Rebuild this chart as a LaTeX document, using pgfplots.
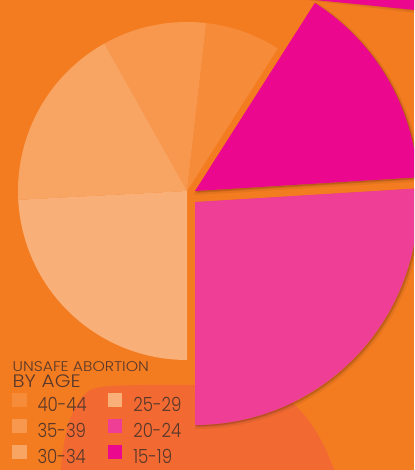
\documentclass[border=0pt]{standalone}
\usepackage{pgfplots}
\pgfplotsset{compat=1.18}
\usepackage{fontspec}
\setmainfont{Poppins}
\newfontfamily\legfont{Poppins Light}[FakeStretch=0.85]
\newfontfamily\titfont{Poppins Light}[FakeStretch=1.12]
\definecolor{bg}{RGB}{244,124,32}
\definecolor{blob}{RGB}{242,106,50}
\definecolor{cA}{RGB}{246,139,58}
\definecolor{cB}{RGB}{247,152,78}
\definecolor{cC}{RGB}{248,164,99}
\definecolor{cD}{RGB}{249,176,120}
\definecolor{cE}{RGB}{238,62,150}
\definecolor{cF}{RGB}{236,8,142}
\definecolor{txt}{RGB}{88,56,42}
\begin{document}
\begin{tikzpicture}
\begin{axis}[
  scale only axis, width=414pt, height=470pt,
  xmin=0, xmax=414, ymin=0, ymax=470,
  hide axis, clip=true,
  legend columns=2,
  legend cell align=left,
  legend image code/.code={\fill[#1,draw=none] (0pt,-2pt) rectangle (14.5pt,12.5pt);},
  legend style={at={(axis cs:12,77)}, anchor=north west, draw=none, fill=none,
    inner sep=0pt, outer sep=0pt,
    font=\legfont\fontsize{19.5}{22}\selectfont, text=txt,
    nodes={inner sep=0pt},
    /tikz/every odd column/.append style={column sep=11pt},
    /tikz/every even column/.append style={column sep=21pt},
    row sep=5.5pt},
]
% background
\addplot[fill=bg, draw=none, forget plot] coordinates {(0,0) (414,0) (414,470) (0,470)} -- cycle;
\addplot[fill=blob, draw=none, smooth, forget plot] coordinates {
 (60,-5) (63,20) (68,45) (77,66) (90,80) (110,84) (150,85) (200,85) (250,83) (278,76) (298,62) (314,42) (326,20) (336,-5)} -- cycle;
% orange slices (center 187,279, r 169)
\addplot[fill=cA, draw=none, domain=57.5:83.5, samples=30, variable=\t, forget plot] ({187+169*cos(\t)},{279+169*sin(\t)}) -- (187,279) -- cycle;
\addplot[fill=cB, draw=none, domain=83.5:119.3, samples=30, variable=\t, forget plot] ({187+169*cos(\t)},{279+169*sin(\t)}) -- (187,279) -- cycle;
\addplot[fill=cC, draw=none, domain=119.3:183.0, samples=40, variable=\t, forget plot] ({187+169*cos(\t)},{279+169*sin(\t)}) -- (187,279) -- cycle;
\addplot[fill=cD, draw=none, domain=183.0:270, samples=50, variable=\t, forget plot] ({187+169*cos(\t)},{279+169*sin(\t)}) -- (187,279) -- cycle;
% shadows for exploded slices
\addplot[fill=black, draw=black, line width=4pt, opacity=0.06, domain=-90:3.5, samples=60, variable=\t, forget plot] ({197+223*cos(\t)},{266+223*sin(\t)}) -- (197,266) -- cycle;
\addplot[fill=black, draw=black, line width=1.5pt, opacity=0.08, domain=-90:3.5, samples=60, variable=\t, forget plot] ({196+223*cos(\t)},{267+223*sin(\t)}) -- (196,267) -- cycle;
\addplot[fill=black, draw=black, line width=4pt, opacity=0.06, domain=3.5:57.5, samples=50, variable=\t, forget plot] ({197+223*cos(\t)},{277+223*sin(\t)}) -- (197,277) -- cycle;
\addplot[fill=black, draw=black, line width=1.5pt, opacity=0.08, domain=3.5:57.5, samples=50, variable=\t, forget plot] ({196+223*cos(\t)},{278+223*sin(\t)}) -- (196,278) -- cycle;
\addplot[fill=black, draw=black, line width=4pt, opacity=0.08, forget plot] coordinates {(306,472) (416,472) (416,459)} -- cycle;
% pink slices
\addplot[fill=cE, draw=none, domain=-90:3.5, samples=60, variable=\t, forget plot] ({195+223*cos(\t)},{268+223*sin(\t)}) -- (195,268) -- cycle;
\addplot[fill=cF, draw=none, domain=3.5:57.5, samples=50, variable=\t, forget plot] ({195+223*cos(\t)},{279+223*sin(\t)}) -- (195,279) -- cycle;
\addplot[fill=cF, draw=none, forget plot] coordinates {(305,471) (415,471) (415,460)} -- cycle;
% legend
\addlegendimage{fill=cA}
\addlegendimage{fill=cD}
\addlegendimage{fill=cB}
\addlegendimage{fill=cE}
\addlegendimage{fill=cC}
\addlegendimage{fill=cF}
\legend{40-44,25-29,35-39,20-24,30-34,15-19}
\node[anchor=base west, inner sep=0pt, text=txt, font=\titfont\fontsize{14}{15}\selectfont] at (axis cs:12.5,98) {UNSAFE ABORTION};
\node[anchor=base west, inner sep=0pt, text=txt, font=\titfont\fontsize{18}{20}\selectfont] at (axis cs:12.5,82) {BY AGE};
\end{axis}
\pgfresetboundingbox
\useasboundingbox (current axis.south west) rectangle (current axis.north east);
\end{tikzpicture}
\end{document}
